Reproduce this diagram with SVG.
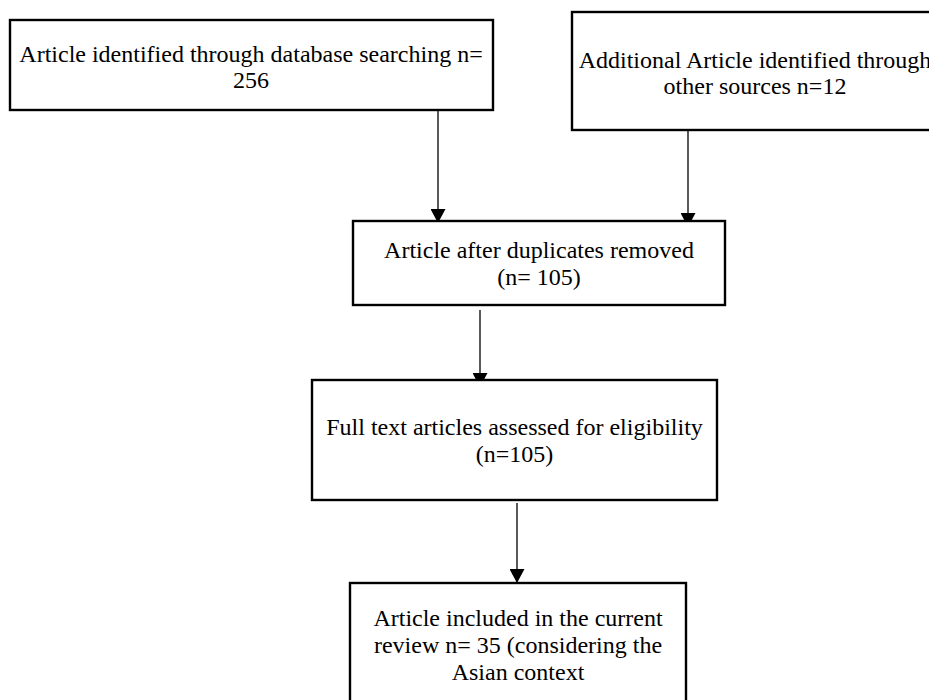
<svg xmlns="http://www.w3.org/2000/svg" width="929" height="700" viewBox="0 0 929 700">
  <style>
    .box { fill: #ffffff; stroke: #000000; stroke-width: 2.4; }
    .lbl { font-family: "Liberation Serif", "Times New Roman", serif; font-size: 24px; fill: #000000; text-anchor: middle; }
    .conn { stroke: #000000; stroke-width: 1.3; fill: none; marker-end: url(#arrow); }
  </style>
  <defs>
    <marker id="arrow" viewBox="0 0 14 15" refX="14" refY="7.5" markerWidth="14" markerHeight="15" markerUnits="userSpaceOnUse" orient="auto">
      <path d="M0,0 L14,7.5 L0,15 Z" fill="#000000"/>
    </marker>
  </defs>
  <rect width="929" height="700" fill="#ffffff"/>

  <g id="connectors">
    <line class="conn" x1="438" y1="111" x2="438" y2="223"/>
    <line class="conn" x1="688" y1="131" x2="688" y2="227"/>
    <line class="conn" x1="480" y1="310" x2="480" y2="387"/>
    <line class="conn" x1="517" y1="503" x2="517" y2="583"/>
  </g>

  <g id="node-database">
    <rect class="box" x="10" y="20" width="483" height="90"/>
    <text class="lbl" x="251" y="62">Article identified through database searching n=</text>
    <text class="lbl" x="251" y="88">256</text>
  </g>

  <g id="node-other-sources">
    <rect class="box" x="572" y="12" width="366" height="118"/>
    <text class="lbl" x="755" y="68">Additional Article identified through</text>
    <text class="lbl" x="755" y="94">other sources n=12</text>
  </g>

  <g id="node-duplicates">
    <rect class="box" x="353" y="221" width="372" height="84"/>
    <text class="lbl" x="539" y="258">Article after duplicates removed</text>
    <text class="lbl" x="539" y="285">(n= 105)</text>
  </g>

  <g id="node-eligibility">
    <rect class="box" x="312" y="380" width="405" height="120"/>
    <text class="lbl" x="514.5" y="435">Full text articles assessed for eligibility</text>
    <text class="lbl" x="514.5" y="462">(n=105)</text>
  </g>

  <g id="node-included">
    <rect class="box" x="350" y="583" width="336" height="130"/>
    <text class="lbl" x="518" y="626">Article included in the current</text>
    <text class="lbl" x="518" y="653">review n= 35 (considering the</text>
    <text class="lbl" x="518" y="680">Asian context</text>
  </g>
</svg>
